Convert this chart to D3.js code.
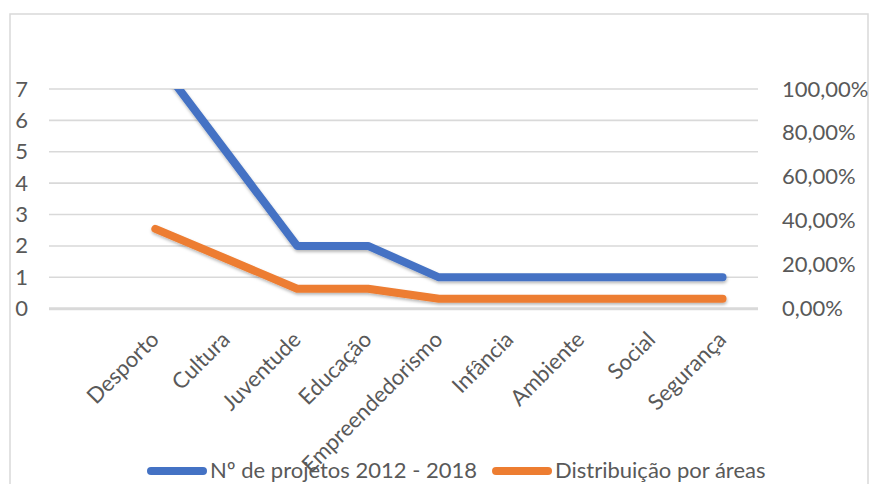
<!DOCTYPE html>
<html>
<head>
<meta charset="utf-8">
<script src="https://cdn.jsdelivr.net/npm/d3@7"></script>
<style>
  html, body { margin: 0; padding: 0; background: #fff; }
  svg { display: block; font-family: Lato, "Noto Sans", sans-serif; }
</style>
</head>
<body>
<svg id="chart" width="871" height="484"></svg>
<script>
// Categories (the leading blank slot is an empty row of the source table)
const categories = ["", "Desporto", "Cultura", "Juventude", "Educação", "Empreendedorismo",
                    "Infância", "Ambiente", "Social", "Segurança"];
// Number of projects per area, 2012 - 2018
const projetos = [null, 8, 5, 2, 2, 1, 1, 1, 1, 1];
// Share of projects per area
const distribuicao = [null, 0.3636, 0.2273, 0.0909, 0.0909, 0.0455, 0.0455, 0.0455, 0.0455, 0.0455];
const leftTicks = [0, 1, 2, 3, 4, 5, 6, 7];
const rightTicks = [0, 0.2, 0.4, 0.6, 0.8, 1.0];
const seriesNames = ["Nº de projetos 2012 - 2018", "Distribuição por áreas"];
const seriesColors = ["#4472C4", "#ED7D31"];

const W = 871, H = 484;
const plot = { left: 49, right: 758, top: 89, bottom: 308.7 };
const textColor = "#595959";
const gridColor = "#d9d9d9";
const fontSize = 22;

const svg = d3.select("#chart");

// Shadow under the series lines
const defs = svg.append("defs");
const f = defs.append("filter").attr("id", "lineShadow")
  .attr("x", "-5%").attr("y", "-20%").attr("width", "110%").attr("height", "140%");
f.append("feDropShadow").attr("dx", 0.5).attr("dy", 2).attr("stdDeviation", 1.6)
  .attr("flood-color", "#000").attr("flood-opacity", 0.28);
defs.append("clipPath").attr("id", "plotClip").append("rect")
  .attr("x", 0).attr("y", plot.top).attr("width", W).attr("height", H - plot.top);

// Chart frame
svg.append("rect")
  .attr("x", 10).attr("y", 14).attr("width", 858).attr("height", H + 20)
  .attr("fill", "#fff").attr("stroke", gridColor).attr("stroke-width", 1.5);

const x = d3.scaleBand().domain(categories).range([plot.left, plot.right]).padding(0);
const yL = d3.scaleLinear().domain([0, 7]).range([plot.bottom, plot.top]);
const yR = d3.scaleLinear().domain([0, 1]).range([plot.bottom, plot.top]);
const cx = c => x(c) + x.bandwidth() / 2;

const ptLocale = d3.formatLocale({ decimal: ",", thousands: ".", grouping: [3], currency: ["", "€"] });
const pct = ptLocale.format(".2%");

// Horizontal gridlines
svg.append("g").selectAll("line").data(leftTicks.filter(t => t > 0)).join("line")
  .attr("x1", plot.left).attr("x2", plot.right)
  .attr("y1", d => yL(d)).attr("y2", d => yL(d))
  .attr("stroke", gridColor).attr("stroke-width", 1.6);
// Category axis line
svg.append("line")
  .attr("x1", plot.left).attr("x2", plot.right)
  .attr("y1", yL(0)).attr("y2", yL(0))
  .attr("stroke", gridColor).attr("stroke-width", 3);

// Left axis
const leftAxis = svg.append("g").attr("transform", `translate(28,0)`)
  .call(d3.axisLeft(yL).tickValues(leftTicks).tickSize(0).tickPadding(0).tickFormat(d3.format("d")));
leftAxis.select(".domain").remove();
leftAxis.selectAll("text").attr("fill", textColor).style("font-size", fontSize + "px")
  .style("font-family", "Lato, 'Noto Sans', sans-serif");

// Right axis
const rightAxis = svg.append("g").attr("transform", `translate(782,0)`)
  .call(d3.axisRight(yR).tickValues(rightTicks).tickSize(0).tickPadding(0).tickFormat(pct));
rightAxis.select(".domain").remove();
rightAxis.selectAll("text").attr("fill", textColor).style("font-size", fontSize + "px")
  .style("font-family", "Lato, 'Noto Sans', sans-serif");

// Rotated category labels
svg.append("g").selectAll("text").data(categories.filter(c => c !== "")).join("text")
  .attr("transform", d => `translate(${cx(d) + 5},341) rotate(-45)`)
  .attr("text-anchor", "end")
  .attr("fill", textColor)
  .style("font-size", fontSize + "px")
  .text(d => d);

// Series lines
const lineL = d3.line().defined(d => d != null)
  .x((d, i) => cx(categories[i])).y(d => yL(d));
const lineR = d3.line().defined(d => d != null)
  .x((d, i) => cx(categories[i])).y(d => yR(d));

const lines = svg.append("g").attr("clip-path", "url(#plotClip)");
[[distribuicao, lineR, 1], [projetos, lineL, 0]].forEach(([vals, gen, k]) => {
  lines.append("path")
    .attr("d", gen(vals))
    .attr("fill", "none")
    .attr("stroke", seriesColors[k])
    .attr("stroke-width", 8)
    .attr("stroke-linecap", "round")
    .attr("stroke-linejoin", "round")
    .attr("filter", "url(#lineShadow)");
});

// Legend
const legend = svg.append("g");
const legendY = 471;
let lx = 147;
seriesNames.forEach((name, k) => {
  legend.append("line")
    .attr("x1", lx + 4).attr("x2", lx + 56)
    .attr("y1", legendY).attr("y2", legendY)
    .attr("stroke", seriesColors[k]).attr("stroke-width", 8)
    .attr("stroke-linecap", "round");
  const t = legend.append("text")
    .attr("x", lx + 63).attr("y", legendY + 7)
    .attr("fill", textColor)
    .style("font-size", fontSize + "px")
    .text(name);
  lx = lx + 63 + t.node().getComputedTextLength() + 15;
});
</script>
</body>
</html>
